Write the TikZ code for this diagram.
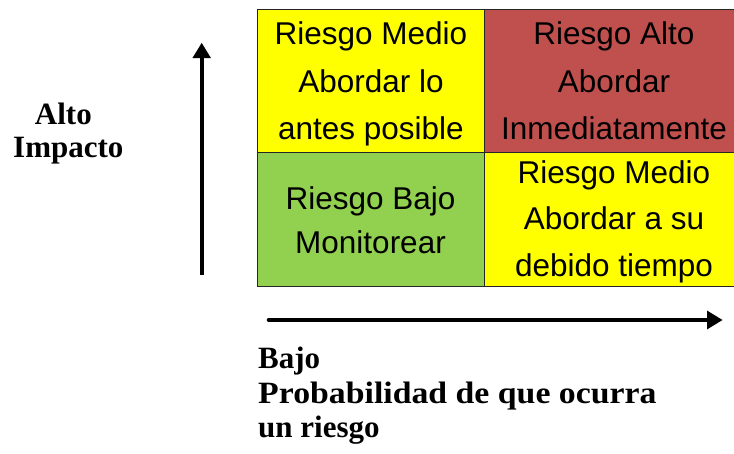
\documentclass[tikz,border=0pt]{standalone}
\usepackage{fontspec}
\setmainfont{Liberation Serif}
\newfontfamily\arialfont{Liberation Sans}
\usetikzlibrary{arrows.meta}
\definecolor{cyel}{HTML}{FFFF00}
\definecolor{cred}{HTML}{C0504D}
\definecolor{cgreen}{HTML}{92D050}
\tikzset{
  cell/.style={draw=black!85, line width=1pt, inner sep=0pt, outer sep=0pt},
  celltext/.style={anchor=base, inner sep=0pt, font=\arialfont\fontsize{31.5}{38}\selectfont},
  axislabel/.style={anchor=base, inner sep=0pt, font=\bfseries\fontsize{31}{34}\selectfont},
  axisarrow/.style={line width=4pt, -{Triangle[length=15.5pt,width=17.5pt]}}
}
\begin{document}
\begin{tikzpicture}[x=1pt,y=-1pt]
\useasboundingbox (0,0) rectangle (734,454);
\clip (0,0) rectangle (734,454);
% cells
\path[fill=cyel]   (257.3,9.3)   rectangle (484.3,152.3);
\path[fill=cred]   (484.3,9.3)   rectangle (745,152.3);
\path[fill=cgreen] (257.3,152.3) rectangle (484.3,287);
\path[fill=cyel]   (484.3,152.3) rectangle (745,287);
\node[cell, minimum width=227pt, minimum height=143pt, anchor=north west] (c11) at (257.3,9.3) {};
\node[cell, minimum width=260.7pt, minimum height=143pt, anchor=north west] (c12) at (484.3,9.3) {};
\node[cell, minimum width=227pt, minimum height=134.7pt, anchor=north west] (c21) at (257.3,152.3) {};
\node[cell, minimum width=260.7pt, minimum height=134.7pt, anchor=north west] (c22) at (484.3,152.3) {};
% cell texts
\node[celltext] (t11a) at (371,45) {Riesgo Medio};
\node[celltext] (t11b) at (371,92.7) {Abordar lo};
\node[celltext] (t11c) at (371,140) {antes posible};
\node[celltext] (t12a) at (614,45) {Riesgo Alto};
\node[celltext] (t12b) at (614,92.7) {Abordar};
\node[celltext] (t12c) at (614,140) {Inmediatamente};
\node[celltext] (t21a) at (370.5,209.3) {Riesgo Bajo};
\node[celltext] (t21b) at (370.5,253.3) {Monitorear};
\node[celltext] (t22a) at (614,183.3) {Riesgo Medio};
\node[celltext] (t22b) at (614,230) {Abordar a su};
\node[celltext] (t22c) at (614,276.7) {debido tiempo};
% axis labels
\node[axislabel] (alto) at (63.4,125) {Alto};
\node[axislabel] (impacto) at (68.3,158) {Impacto};
\node[axislabel, anchor=base west] (bajo) at (258,369) {Bajo};
\node[axislabel, anchor=base west, xscale=1.09] (prob) at (258,403) {Probabilidad de que ocurra};
\node[axislabel, anchor=base west] (unr) at (258,437) {un riesgo};
% arrows
\coordinate (vs) at (201.7,275);
\coordinate (ve) at (201.7,42.7);
\coordinate (hs) at (268.7,320);
\coordinate (he) at (722.7,320);
\draw[axisarrow] (vs) -- (ve);
\draw[axisarrow, line cap=round] (hs) -- (he);
\end{tikzpicture}
\end{document}
